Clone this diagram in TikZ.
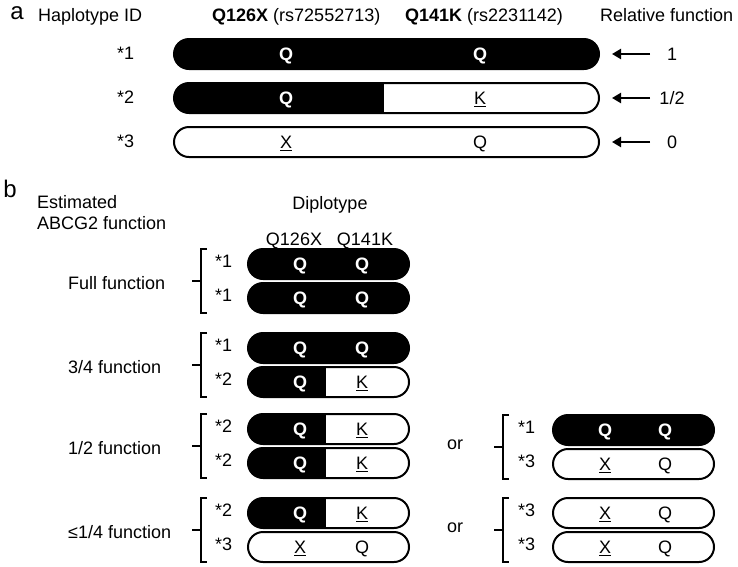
\documentclass[tikz,border=0pt]{standalone}
\usepackage{fontspec}
\setmainfont{Liberation Sans}
\usetikzlibrary{arrows.meta}
\begin{document}
\begin{tikzpicture}[x=1pt,y=-1pt,
  font=\fontsize{18}{21}\selectfont,
  txt/.style={inner sep=0pt, anchor=base},
  lft/.style={inner sep=0pt, anchor=base west},
  panel/.style={inner sep=0pt, anchor=center, font=\fontsize{24}{28}\selectfont},
  bar/.style={draw=black, line width=2pt, fill=white, rounded corners=15pt, minimum height=30pt, inner sep=0pt},
  bara/.style={bar, minimum width=425pt},
  barb/.style={bar, minimum width=161pt},
  full/.style={fill=black},
  half/.style={path picture={\fill[black, sharp corners] (path picture bounding box.south west) rectangle ([xshift=-2.5pt]path picture bounding box.north);}},
  wq/.style={inner sep=0pt, anchor=base, text=white, font=\fontsize{18}{21}\selectfont\bfseries},
  bk/.style={inner sep=0pt, anchor=base},
  arr/.style={line width=2.5pt, -{Triangle[length=9pt,width=10pt]}, shorten >=12pt},
  brk/.style={line width=2.5pt}
]
\useasboundingbox (0,0) rectangle (738,566);

% ---------- panel a ----------
\node[panel] (pa) at (17,13) {a};
\node[lft] (hid) at (38,21) {Haplotype ID};
\node[lft] (h1) at (212,21) {\textbf{Q126X} (rs72552713)};
\node[lft] (h2) at (405,21) {\textbf{Q141K} (rs2231142)};
\node[lft] (hrf) at (600,21) {Relative function};

\node[bara, full] (a1) at (386.5,54) {};
\node[bara, half] (a2) at (386.5,98) {};
\node[bara] (a3) at (386.5,142) {};

\node[lft] (sa1) at (117,59.5) {*1};
\node[lft] (sa2) at (117,103.5) {*2};
\node[lft] (sa3) at (117,147.5) {*3};

\node[wq] (a1q1) at (286,60.5) {Q};
\node[wq] (a1q2) at (480,60.5) {Q};
\node[wq] (a2q1) at (286,104.5) {Q};
\node[bk] (a2k2) at (480,104.5) {\underline{K}};
\node[bk] (a3x1) at (286,148.5) {\underline{X}};
\node[bk] (a3q2) at (480,148.5) {Q};

\coordinate (ta1) at (650,54);
\coordinate (ta2) at (650,98);
\coordinate (ta3) at (650,142);
\draw[arr] (ta1) -- (a1);
\draw[arr] (ta2) -- (a2);
\draw[arr] (ta3) -- (a3);
\node[txt] (r1) at (672,60.5) {1};
\node[txt] (r2) at (672,104.5) {1/2};
\node[txt] (r3) at (672,148.5) {0};

% ---------- panel b ----------
\node[panel] (pb) at (10,188.5) {b};
\node[lft] (est1) at (37,208.5) {Estimated};
\node[lft] (est2) at (37,229.5) {ABCG2 function};
\node[txt] (dip) at (330,209.5) {Diplotype};
\node[txt] (c1) at (294,245.5) {Q126X};
\node[txt] (c2) at (365,245.5) {Q141K};

% group labels
\node[lft] (gF) at (68,289) {Full function};
\node[lft] (gT) at (68,373) {3/4 function};
\node[lft] (gH) at (68,454) {1/2 function};
\node[lft] (gL) at (68,538) {≤1/4 function};

% left bars
\node[barb, full] (f1) at (328.5,264) {};
\node[barb, full] (f2) at (328.5,298) {};
\node[barb, full] (t1) at (328.5,348) {};
\node[barb, half] (t2) at (328.5,382) {};
\node[barb, half] (h1b) at (328.5,429) {};
\node[barb, half] (h2b) at (328.5,463) {};
\node[barb, half] (l1) at (328.5,513) {};
\node[barb] (l2) at (328.5,547) {};
% right bars
\node[barb, full] (hr1) at (633.5,430) {};
\node[barb] (hr2) at (633.5,464) {};
\node[barb] (lr1) at (633.5,513) {};
\node[barb] (lr2) at (633.5,547) {};

% star labels
\node[lft] (sf1) at (215,267) {*1};
\node[lft] (sf2) at (215,301) {*1};
\node[lft] (st1) at (215,351) {*1};
\node[lft] (st2) at (215,385) {*2};
\node[lft] (sh1) at (215,432) {*2};
\node[lft] (sh2) at (215,466) {*2};
\node[lft] (sl1) at (215,516) {*2};
\node[lft] (sl2) at (215,550) {*3};
\node[lft] (shr1) at (518,433) {*1};
\node[lft] (shr2) at (518,467) {*3};
\node[lft] (slr1) at (518,516) {*3};
\node[lft] (slr2) at (518,550) {*3};

% letters left
\node[wq] (f1a) at (300,270.5) {Q};
\node[wq] (f1b) at (362,270.5) {Q};
\node[wq] (f2a) at (300,304.5) {Q};
\node[wq] (f2b) at (362,304.5) {Q};
\node[wq] (t1a) at (300,354.5) {Q};
\node[wq] (t1b) at (362,354.5) {Q};
\node[wq] (t2a) at (300,388.5) {Q};
\node[bk] (t2b) at (362,388.5) {\underline{K}};
\node[wq] (h1a) at (300,435.5) {Q};
\node[bk] (h1bk) at (362,435.5) {\underline{K}};
\node[wq] (h2a) at (300,469.5) {Q};
\node[bk] (h2bk) at (362,469.5) {\underline{K}};
\node[wq] (l1a) at (300,519.5) {Q};
\node[bk] (l1b) at (362,519.5) {\underline{K}};
\node[bk] (l2a) at (300,553.5) {\underline{X}};
\node[bk] (l2b) at (362,553.5) {Q};
% letters right
\node[wq] (hr1a) at (605,436.5) {Q};
\node[wq] (hr1b) at (665,436.5) {Q};
\node[bk] (hr2a) at (605,470.5) {\underline{X}};
\node[bk] (hr2b) at (665,470.5) {Q};
\node[bk] (lr1a) at (605,519.5) {\underline{X}};
\node[bk] (lr1b) at (665,519.5) {Q};
\node[bk] (lr2a) at (605,553.5) {\underline{X}};
\node[bk] (lr2b) at (665,553.5) {Q};

% or
\node[lft] (or1) at (447,449) {or};
\node[lft] (or2) at (447,532) {or};

% brackets left
\draw[brk] (207,249) -- (201,249) -- (201,313) -- (207,313) (201,281) -- (192,281);
\draw[brk] (207,333) -- (201,333) -- (201,397) -- (207,397) (201,365) -- (192,365);
\draw[brk] (207,414) -- (201,414) -- (201,478) -- (207,478) (201,446) -- (192,446);
\draw[brk] (207,498) -- (201,498) -- (201,562) -- (207,562) (201,530) -- (192,530);
% brackets right
\draw[brk] (509,415) -- (503,415) -- (503,479) -- (509,479) (503,447) -- (494,447);
\draw[brk] (509,498) -- (503,498) -- (503,562) -- (509,562) (503,530) -- (494,530);
\end{tikzpicture}
\end{document}
